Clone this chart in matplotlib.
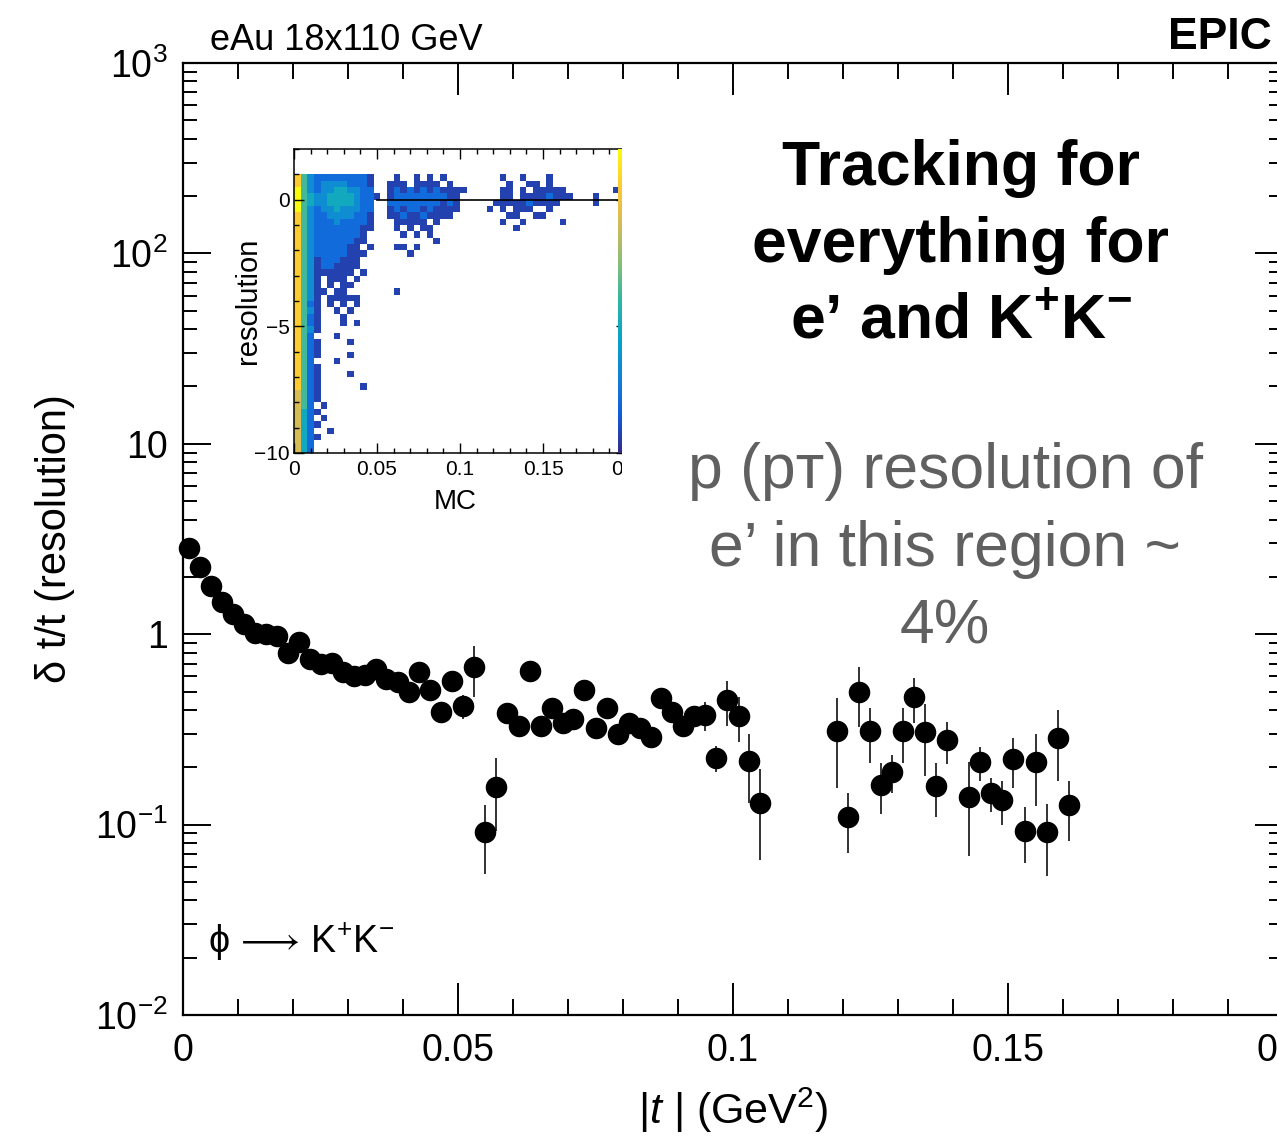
import numpy as np
import matplotlib
matplotlib.use("Agg")
import matplotlib.pyplot as plt
from matplotlib.ticker import (FixedLocator, FixedFormatter, MultipleLocator,
                               NullFormatter, FuncFormatter, LogLocator)
from matplotlib.colors import LinearSegmentedColormap, Normalize
from matplotlib.patches import Rectangle

# ---------------------------------------------------------------- data
# |t| bin centres (GeV^2) and relative t resolution with its uncertainty
t_center = [
    0.001, 0.003, 0.005, 0.007, 0.009, 0.011, 0.013, 0.015, 0.017, 0.019,
    0.021, 0.023, 0.025, 0.027, 0.029, 0.031, 0.033, 0.035, 0.037, 0.039,
    0.041, 0.043, 0.045, 0.047, 0.049, 0.051, 0.053, 0.055, 0.057, 0.059,
    0.061, 0.063, 0.065, 0.067, 0.069, 0.071, 0.073, 0.075, 0.077, 0.079,
    0.081, 0.083, 0.085, 0.087, 0.089, 0.091, 0.093, 0.095, 0.097, 0.099,
    0.101, 0.103, 0.105,
    0.119, 0.121, 0.123, 0.125, 0.127, 0.129, 0.131, 0.133, 0.135, 0.137,
    0.139, 0.143, 0.145, 0.147, 0.149, 0.151, 0.153, 0.155, 0.157, 0.159,
    0.161,
]
resolution = [
    2.84, 2.25, 1.79, 1.47, 1.27, 1.13, 1.02, 1.00, 0.98, 0.80,
    0.91, 0.74, 0.70, 0.71, 0.63, 0.60, 0.61, 0.66, 0.58, 0.56,
    0.50, 0.63, 0.51, 0.39, 0.57, 0.42, 0.67, 0.091, 0.158, 0.384,
    0.33, 0.64, 0.33, 0.41, 0.34, 0.36, 0.51, 0.32, 0.41, 0.30,
    0.34, 0.32, 0.29, 0.46, 0.39, 0.33, 0.37, 0.375, 0.225, 0.45,
    0.37, 0.215, 0.13,
    0.31, 0.109, 0.50, 0.31, 0.162, 0.19, 0.31, 0.466, 0.305, 0.16,
    0.277, 0.14, 0.212, 0.146, 0.134, 0.22, 0.093, 0.212, 0.091, 0.284,
    0.126,
]
resolution_err = [
    0.08, 0.06, 0.05, 0.04, 0.04, 0.04, 0.03, 0.03, 0.03, 0.03,
    0.03, 0.03, 0.03, 0.03, 0.03, 0.03, 0.03, 0.03, 0.03, 0.03,
    0.03, 0.04, 0.04, 0.03, 0.05, 0.06, 0.20, 0.036, 0.065, 0.04,
    0.03, 0.04, 0.03, 0.04, 0.03, 0.03, 0.04, 0.03, 0.04, 0.03,
    0.03, 0.03, 0.03, 0.04, 0.04, 0.04, 0.04, 0.065, 0.035, 0.12,
    0.10, 0.085, 0.065,
    0.155, 0.038, 0.175, 0.10, 0.048, 0.043, 0.10, 0.125, 0.125, 0.051,
    0.068, 0.072, 0.043, 0.03, 0.035, 0.064, 0.03, 0.087, 0.037, 0.114,
    0.044,
]

x_ticks = [0.0, 0.05, 0.1, 0.15, 0.2]
y_ticks = [1e-2, 1e-1, 1, 10, 1e2, 1e3]
y_tick_labels = [r"10$^{-2}$", r"10$^{-1}$", "1", "10", r"10$^{2}$", r"10$^{3}$"]

# Inset: reconstructed vs MC |t| occupancy, colour level per cell
# columns: MC |t| bins of 0.004 from 0; rows: resolution bins of 0.25, from +1.0 down to -10
inset_x_step = 0.004
inset_y_top = 1.0
inset_y_step = 0.25
inset_levels = [
    "853222222221...1..1.1.1........1..1...1",
    "853233332221..111.1111.1........1..11.1",
    "953233443322..121212121111.....11.1.11111.......1",
    "9543344443221.12222222211......11.11112111...1",
    "954334444322..22222222121.....1111121111.....1",
    "953233433322..12122121111....1.1.111..1",
    "853223333221..1121121111........11..11",
    "853222322221...11111.1.........1..1.....1",
    "853222222211...1.1.11............1",
    "85322222221.....1.1.1",
    "85322222211..........1",
    "8532222211.1...11.1",
    "85322222111......1",
    "8531222111",
    "8531221111",
    "853111111.1",
    "8531.111.1",
    "8531.1.11",
    "85311.11.......1",
    "8531.11111",
    "8521.1.1.1",
    "8531..1.1",
    "8521...1",
    "8521...1.1",
    "8531",
    "852...1",
    "8521....1",
    "8521",
    "8521....1",
    "852...1",
    "8521",
    "8521....1",
    "8521",
    "8521......1",
    "7521",
    "7521",
    "752.1",
    "7421",
    "742.1",
    "7421",
    "742..1",
    "7421",
    "742",
    "742",
]

# ---------------------------------------------------------------- style
plt.rcParams["font.family"] = ["Liberation Sans", "DejaVu Sans"]
plt.rcParams["mathtext.fontset"] = "custom"
plt.rcParams["mathtext.rm"] = "Liberation Sans"
plt.rcParams["mathtext.it"] = "Liberation Sans:italic"
plt.rcParams["mathtext.bf"] = "Liberation Sans:bold"
plt.rcParams["axes.unicode_minus"] = True

W, H = 1277, 1139
fig = plt.figure(figsize=(W / 100, H / 100), dpi=100)


def fx(px):
    return px / W


def fy(py):
    return 1 - py / H


# ROOT kBird palette
bird = LinearSegmentedColormap.from_list("bird", [
    (0.2082, 0.1664, 0.5293), (0.0592, 0.3599, 0.8684), (0.0780, 0.5041, 0.8385),
    (0.0232, 0.6419, 0.7914), (0.1802, 0.7178, 0.6425), (0.5301, 0.7492, 0.4662),
    (0.8186, 0.7328, 0.3499), (0.9956, 0.7862, 0.1968), (0.9764, 0.9832, 0.0539)])

# ---------------------------------------------------------------- main panel
ax = fig.add_axes([fx(183), fy(1015), (1283 - 183) / W, (1015 - 63) / H])
ax.set_xlim(0, 0.2)
ax.set_yscale("log")
ax.set_ylim(1e-2, 1e3)

ax.errorbar(t_center, resolution, yerr=resolution_err, fmt="o", color="black",
            ms=14.5, elinewidth=1.3, ecolor="#222222", capsize=0, zorder=3,
            clip_on=False)

ax.xaxis.set_major_locator(FixedLocator(x_ticks))
ax.xaxis.set_minor_locator(MultipleLocator(0.01))
ax.xaxis.set_major_formatter(FuncFormatter(lambda v, p: f"{v:g}"))
ax.yaxis.set_major_locator(FixedLocator(y_ticks))
ax.yaxis.set_major_formatter(FixedFormatter(y_tick_labels))
ax.yaxis.set_minor_locator(LogLocator(base=10, subs=range(2, 10), numticks=20))
ax.yaxis.set_minor_formatter(NullFormatter())

ax.tick_params(which="both", direction="in", top=True, right=True,
               width=1.4, labelsize=27, color="black")
ax.tick_params(axis="x", which="major", length=23, pad=13)
ax.tick_params(axis="x", which="minor", length=11.5)
ax.tick_params(axis="y", which="major", length=20, pad=11)
ax.tick_params(axis="y", which="minor", length=10)
for s in ax.spines.values():
    s.set_linewidth(1.6)

ax.set_xlabel(r"|$t$ | (GeV$^{2}$)", fontsize=31)
ax.xaxis.set_label_coords(0.5, -0.1)
ax.xaxis.label.set_va("center")
ax.set_ylabel("δ t/t (resolution)", fontsize=30)
ax.yaxis.set_label_coords(-0.1164, 0.5)
ax.yaxis.label.set_va("center")

# ---------------------------------------------------------------- annotations
fig.text(fx(210), fy(50), "eAu 18x110 GeV", fontsize=26, ha="left", va="baseline")
fig.text(fx(1272), fy(49), "EPIC", fontsize=32, fontweight="bold",
         ha="right", va="baseline")
fig.text(fx(208), fy(953), r"ϕ$\,\longrightarrow\,$K$^{+}$K$^{-}$", fontsize=27,
         ha="left", va="baseline")

bold_lines = ["Tracking for", "everything for",
              r"e’ and K$^{\mathbf{+}}$K$^{\mathbf{-}}$"]
for txt, base in zip(bold_lines, [185, 262, 338]):
    fig.text(fx(961), fy(base), txt, fontsize=45, fontweight="bold",
             ha="center", va="baseline")

gray_lines = ["p (pᴛ) resolution of", "e’ in this region ~", "4%"]
for txt, base in zip(gray_lines, [488, 566, 643]):
    fig.text(fx(945), fy(base), txt, fontsize=45, color="#606060",
             ha="center", va="baseline")

# ---------------------------------------------------------------- inset
ins = fig.add_axes([fx(294), fy(453), (626 - 294) / W, (453 - 149) / H])
ins.set_xlim(0, 0.2)
ins.set_ylim(-10, 2)

n_rows = len(inset_levels)
n_cols = 50
grid = np.full((n_rows, n_cols), np.nan)
for r, row in enumerate(inset_levels):
    for c, ch in enumerate(row[:n_cols]):
        if ch != ".":
            grid[r, c] = int(ch)
xe = np.arange(n_cols + 1) * inset_x_step
ye = inset_y_top - np.arange(n_rows + 1) * inset_y_step
ins.pcolormesh(xe, ye, np.ma.masked_invalid(grid), cmap=bird,
               norm=Normalize(0.5, 9), shading="flat", zorder=1)
ins.plot([0.05, 0.2], [0, 0], color="black", lw=1.2, zorder=2)

ins.xaxis.set_major_locator(FixedLocator(x_ticks))
ins.xaxis.set_minor_locator(MultipleLocator(0.01))
ins.xaxis.set_major_formatter(FuncFormatter(lambda v, p: f"{v:g}"))
ins.yaxis.set_major_locator(MultipleLocator(5))
ins.yaxis.set_minor_locator(MultipleLocator(1))
ins.tick_params(which="both", direction="in", top=True, right=True,
                width=1.0, labelsize=15)
ins.tick_params(which="major", length=7)
ins.tick_params(which="minor", length=3.5)
ins.tick_params(axis="x", pad=5)
ins.tick_params(axis="y", pad=3)
for s in ins.spines.values():
    s.set_linewidth(1.1)
ins.set_xlabel("MC", fontsize=20)
ins.xaxis.set_label_coords(0.486, -0.16)
ins.xaxis.label.set_va("center")
ins.set_ylabel("resolution", fontsize=21)
ins.yaxis.set_label_coords(-0.14, 0.5)
ins.yaxis.label.set_va("center")

# the inset panel is trimmed at its right edge, where the palette strip sits
fig.patches.append(Rectangle((fx(622), fy(475)), 40 / W, 340 / H,
                             transform=fig.transFigure, facecolor="white",
                             edgecolor="none", zorder=10))
cax = fig.add_axes([fx(618), fy(453), 4 / W, (453 - 149) / H])
cax.set_zorder(11)
cax.imshow(np.linspace(0, 1, 256)[::-1, None], aspect="auto", cmap=bird,
           extent=[0, 1, 0, 1])
cax.set_axis_off()

fig.savefig("out.png", dpi=100)
